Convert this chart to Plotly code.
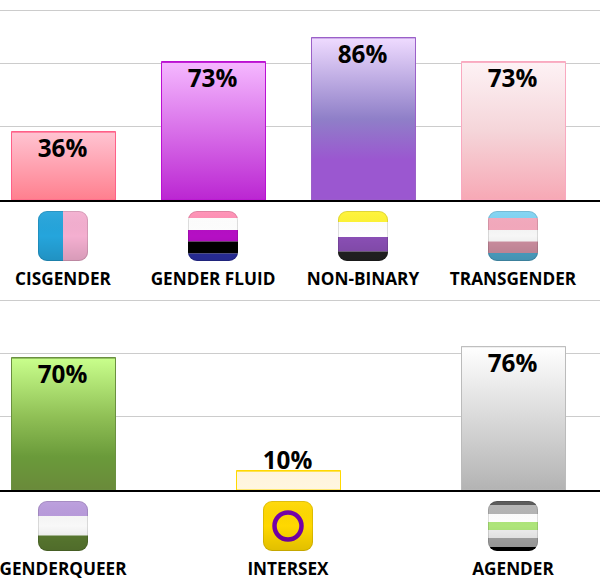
""" Gender identity percentages, two rows of glossy bars with flag icons """
import base64

import plotly.graph_objects as go

TOP_LABELS = ["CISGENDER", "GENDER FLUID", "NON-BINARY", "TRANSGENDER"]
TOP_VALUES = [36, 73, 86, 73]
BOTTOM_LABELS = ["GENDERQUEER", "INTERSEX", "AGENDER"]
BOTTOM_VALUES = [70, 10, 76]
GRID_VALUES = [39.0, 72.4, 100.5]

TOP_BORDERS = ["#ff6088", "#bb10d2", "#9b60c8", "#f9a9c0"]
BOTTOM_BORDERS = ["#6a9040", "#ffd900", "#bbbbbb"]

# bar fills, listed from the bottom of the bar to the top
TOP_FILLS = [
    [[0, "#ff7f8e"], [1, "#ffc4d2"]],
    [[0, "#bb26d2"], [1, "#f5b8ff"]],
    [[0, "#9b57d0"], [0.25, "#9b57d0"], [0.5, "#8f7fc8"], [1, "#efdbff"]],
    [[0, "#f7a8b5"], [0.5, "#f5d5d9"], [1, "#fdf2f5"]],
]
BOTTOM_FILLS = [
    [[0, "#6a8a3a"], [0.25, "#6a9a3a"], [0.55, "#8fbf55"], [1, "#c9ff8c"]],
    [[0, "#fff6e0"], [1, "#fff4dc"]],
    [[0, "#b3b3b3"], [1, "#ffffff"]],
]

# flag stripes for the icons: colour and share of the height
TOP_FLAGS = [
    None,
    [("#ff8fb4", 14), ("#ffffff", 24), ("#b50fc4", 23), ("#000000", 24), ("#2a2fa0", 15)],
    [("#fff433", 22), ("#ffffff", 30), ("#8a4fb5", 29), ("#222222", 19)],
    [("#7fd3f3", 14), ("#f4a9bd", 24), ("#f6f6f6", 23), ("#cc8ea0", 23), ("#4ea5c9", 16)],
]
BOTTOM_FLAGS = [
    [("#b99bdc", 30), ("#f8f8f8", 39), ("#5a7a30", 31)],
    None,
    [("#555555", 8), ("#b5b5b5", 18), ("#ffffff", 16), ("#aee57a", 16),
     ("#eeeeee", 16), ("#a5a5a5", 18), ("#000000", 8)],
]

PX_PER_UNIT = 1.885
BAR_PX = 104
W, H = 600, 580
X0_PX = 63.5


def icon_uri(flag, kind=None):
    """rounded glossy square as an svg data uri"""
    body = ""
    if kind == "cis":
        body = (
            '<rect x="0" y="0" width="25" height="50" fill="#25a5dc"/>'
            '<rect x="25" y="0" width="25" height="50" fill="#f4afd0"/>'
        )
    elif kind == "intersex":
        body = (
            '<rect x="0" y="0" width="50" height="50" fill="#ffd800"/>'
            '<circle cx="25" cy="25" r="13.5" fill="none" stroke="#7400a8" stroke-width="4.5"/>'
        )
    else:
        pos = 0
        for color, share in flag:
            h = share / 2
            body += f'<rect x="0" y="{pos}" width="50" height="{h}" fill="{color}"/>'
            pos += h
    svg = (
        '<svg xmlns="http://www.w3.org/2000/svg" width="50" height="50" viewBox="0 0 50 50">'
        '<defs><clipPath id="c"><rect width="50" height="50" rx="9"/></clipPath>'
        '<linearGradient id="g" x1="0" y1="0" x2="0" y2="1">'
        '<stop offset="0" stop-color="#fff" stop-opacity="0.06"/>'
        '<stop offset="0.5" stop-color="#000" stop-opacity="0"/>'
        '<stop offset="1" stop-color="#000" stop-opacity="0.12"/>'
        '</linearGradient></defs>'
        f'<g clip-path="url(#c)">{body}<rect width="50" height="50" fill="url(#g)"/></g>'
        '<rect x="0.5" y="0.5" width="49" height="49" rx="8.5" fill="none" '
        'stroke="#000" stroke-opacity="0.12"/>'
        '</svg>'
    )
    return "data:image/svg+xml;base64," + base64.b64encode(svg.encode()).decode()


def add_row(fig, values, labels, fills, borders, xaxis, yaxis, slot_px):
    """draw one row of gradient bars"""
    half = BAR_PX / slot_px / 2
    positions = list(range(len(values)))
    fig.add_trace(go.Bar(
        x=positions, y=values, width=BAR_PX / slot_px, xaxis=xaxis, yaxis=yaxis,
        marker=dict(color=[f[-1][1] for f in fills], line=dict(color=borders, width=1)),
        hoverinfo="skip",
    ))
    for pos, val, fill, border in zip(positions, values, fills, borders):
        fig.add_trace(go.Scatter(
            x=[pos - half, pos - half, pos + half, pos + half, pos - half],
            y=[0, val, val, 0, 0],
            mode="lines", fill="toself", xaxis=xaxis, yaxis=yaxis,
            line=dict(color=border, width=1),
            fillgradient=dict(type="vertical", colorscale=fill, start=0, stop=val),
            hoverinfo="skip",
        ))
    # label centre sits inside the bar, short bars get it just above
    label_y = [v + 8 / PX_PER_UNIT if v < 20 else v - 19 / PX_PER_UNIT for v in values]
    fig.add_trace(go.Scatter(
        x=[p - 1 / slot_px for p in positions], y=label_y, mode="text", xaxis=xaxis, yaxis=yaxis,
        text=[f"{v}%" for v in values],
        textposition="middle center",
        textfont=dict(family="Open Sans", size=24.3, color="#000000", weight="bold"),
        hoverinfo="skip",
    ))


fig = go.Figure()
add_row(fig, TOP_VALUES, TOP_LABELS, TOP_FILLS, TOP_BORDERS, "x", "y", 150)
add_row(fig, BOTTOM_VALUES, BOTTOM_LABELS, BOTTOM_FILLS, BOTTOM_BORDERS, "x2", "y2", 225)

axis_y_top = 200
axis_y_bottom = 490
y_max = axis_y_top / PX_PER_UNIT

x_common = dict(
    showline=True, linecolor="#000000", linewidth=2, showgrid=False, zeroline=False,
    ticks="", tickfont=dict(family="Open Sans", size=17.2, color="#000000", weight="bold"),
    ticklabeloverflow="allow", fixedrange=True,
)
y_common = dict(
    range=[0, y_max], tickvals=GRID_VALUES, showticklabels=False, ticks="",
    gridcolor="#cccccc", gridwidth=1, zeroline=False, showline=False, fixedrange=True,
)

images = []
top_icons = [icon_uri(None, "cis")] + [icon_uri(f) for f in TOP_FLAGS[1:]]
for i, src in enumerate(top_icons):
    images.append(dict(
        source=src, xref="x", yref="paper", x=i - 0.5 / 150, y=(H - 211) / H,
        sizex=50 / 150, sizey=50 / H, xanchor="center", yanchor="top", sizing="stretch", layer="above",
    ))
bottom_icons = [icon_uri(BOTTOM_FLAGS[0]), icon_uri(None, "intersex"), icon_uri(BOTTOM_FLAGS[2])]
for i, src in enumerate(bottom_icons):
    images.append(dict(
        source=src, xref="x2", yref="paper", x=i - 0.5 / 225, y=(H - 501) / H,
        sizex=50 / 225, sizey=50 / H, xanchor="center", yanchor="top", sizing="stretch", layer="above",
    ))

fig.update_layout(
    width=W, height=H, margin=dict(l=0, r=0, t=0, b=0),
    paper_bgcolor="#ffffff", plot_bgcolor="#ffffff", showlegend=False,
    bargap=0, images=images,
    xaxis=dict(
        x_common, domain=[0, 1], anchor="y", range=[-X0_PX / 150, (W - X0_PX) / 150],
        tickvals=[i - 0.5 / 150 for i in range(4)], ticktext=TOP_LABELS, ticklabelstandoff=62,
    ),
    yaxis=dict(y_common, domain=[(H - axis_y_top) / H, 1], anchor="x"),
    xaxis2=dict(
        x_common, domain=[0, 1], anchor="y2", range=[-X0_PX / 225, (W - X0_PX) / 225],
        tickvals=[i - 0.5 / 225 for i in range(3)], ticktext=BOTTOM_LABELS, ticklabelstandoff=62,
    ),
    yaxis2=dict(
        y_common, domain=[(H - axis_y_bottom) / H, (H - axis_y_bottom + axis_y_top) / H], anchor="x2",
    ),
)

# the page body has a default margin, drop it so the chart fills the window
fig.write_html(
    "out.html",
    config=dict(displayModeBar=False),
    post_script="document.body.style.margin = '0';",
)
